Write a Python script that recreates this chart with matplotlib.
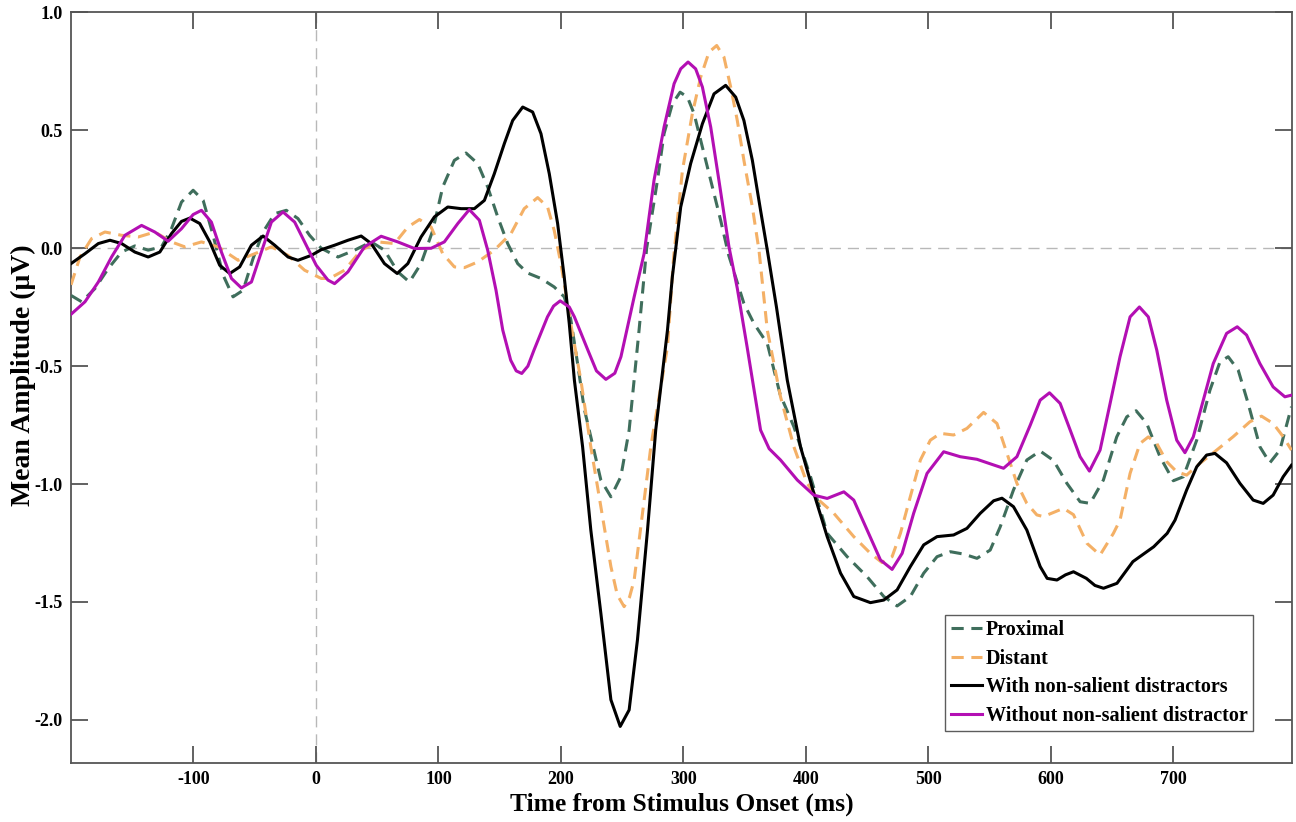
import matplotlib
matplotlib.use("Agg")
import matplotlib.pyplot as plt

plt.rcParams['font.family'] = ['Liberation Serif', 'DejaVu Serif']
plt.rcParams['font.weight'] = 'bold'

# ---- grand-average ERP waveforms (time in ms, amplitude in µV) ----
with_t = [-200, -188.6, -177.7, -168.2, -158.7, -147.9, -137, -127.5, -118, -109.8, -103, -94.9, -86.7, -78.6, -70.4,
          -62.3, -52.7, -43.2, -33.7, -22.8, -14.7, -3.8, 4.3, 15.2, 26.1, 36.9, 45.1, 55.9, 66.3, 75,
          85.8, 96.7, 107.6, 118.5, 129.3, 137.5, 145.6, 153.8, 160.6, 168.8, 176.9, 183.7, 190.5, 197.3, 202.7,
          206.8, 211, 217.7, 224.4, 232.6, 240.8, 248.4, 255.7, 262.5, 270.7, 277.4, 287, 291, 297.8, 305.9,
          315.5, 325, 334.5, 342.7, 349.4, 356.3, 363, 368.5, 376, 384.8, 395.6, 406.5, 417.4, 428.3, 439.1,
          452.7, 463.6, 474.5, 485.3, 496.2, 507.1, 520.6, 531.5, 542.4, 553.3, 560.1, 569.5, 580.4, 591.3, 597,
          605, 612, 618.5, 629, 636, 643, 654, 667, 684, 695, 701.4, 710.9, 719.1, 727.2, 734,
          743.5, 754.4, 765.2, 773.4, 781.5, 789.7, 796.5]
with_v = [-0.065, -0.023, 0.02, 0.034, 0.02, -0.016, -0.037, -0.016, 0.062, 0.114, 0.128, 0.105, 0.027, -0.072, -0.107,
          -0.079, 0.013, 0.052, 0.013, -0.037, -0.051, -0.03, -0.006, 0.013, 0.034, 0.052, 0.02, -0.065, -0.107, -0.065,
          0.048, 0.133, 0.175, 0.168, 0.168, 0.203, 0.316, 0.444, 0.542, 0.599, 0.578, 0.486, 0.316, 0.105, -0.122,
          -0.319, -0.56, -0.842, -1.195, -1.548, -1.915, -2.028, -1.958, -1.66, -1.195, -0.771, -0.347, -0.12, 0.175, 0.359,
          0.528, 0.655, 0.691, 0.641, 0.542, 0.373, 0.161, -0.008, -0.25, -0.559, -0.842, -1.039, -1.223, -1.378, -1.477,
          -1.503, -1.492, -1.449, -1.35, -1.258, -1.223, -1.216, -1.188, -1.124, -1.071, -1.06, -1.096, -1.195, -1.35, -1.40,
          -1.407, -1.385, -1.372, -1.40, -1.43, -1.442, -1.421, -1.329, -1.266, -1.209, -1.153, -1.025, -0.927, -0.877, -0.87,
          -0.91, -0.997, -1.068, -1.082, -1.047, -0.969, -0.92]

without_t = [-200, -188.6, -177.7, -166.9, -156, -142.4, -131.6, -120.7, -109.8, -100.3, -93.5, -85.4, -77.2, -69, -60.9,
             -52.7, -44.6, -36.4, -26.9, -17.4, -9.3, 0.2, 9.8, 15.2, 26.1, 39.6, 53.2, 66.8, 80.4, 94,
             104.8, 115.8, 125.2, 133.4, 140.2, 147, 152.5, 159, 163.5, 168, 173, 178, 189, 194, 199.4,
             206.8, 211, 222, 229, 236.7, 244, 249, 259.8, 267.9, 276, 284.2, 292.4, 297.8, 303.8, 310,
             315.5, 322.3, 329, 337.2, 344, 352, 363, 370, 379.3, 393, 406.5, 417.4, 431, 439.1, 450,
             460.9, 470.4, 478.6, 488, 498.9, 512.5, 526, 539.7, 553.3, 561.4, 572.3, 583.2, 591.3, 598.9, 607.6,
             615.8, 623.9, 631.5, 640.2, 648.4, 656.5, 664.7, 672.3, 679.6, 686.5, 694.6, 702.8, 709.5, 716.3, 724.5,
             732.6, 743.5, 752.2, 759.8, 770.7, 781.5, 791.1, 796.5]
without_v = [-0.28, -0.227, -0.143, -0.037, 0.055, 0.097, 0.069, 0.03, 0.083, 0.143, 0.161, 0.111, -0.016, -0.128, -0.168,
             -0.143, -0.016, 0.111, 0.154, 0.111, 0.027, -0.072, -0.135, -0.15, -0.1, 0.006, 0.051, 0.027, -0.001, 0.0,
             0.027, 0.105, 0.164, 0.119, -0.008, -0.178, -0.347, -0.475, -0.52, -0.531, -0.50, -0.432, -0.291, -0.245, -0.223,
             -0.249, -0.291, -0.432, -0.52, -0.556, -0.53, -0.46, -0.206, -0.023, 0.288, 0.514, 0.698, 0.761, 0.79, 0.761,
             0.684, 0.514, 0.288, 0.006, -0.17, -0.418, -0.771, -0.85, -0.898, -0.983, -1.047, -1.061, -1.033, -1.068, -1.195,
             -1.322, -1.362, -1.294, -1.124, -0.955, -0.863, -0.884, -0.895, -0.919, -0.933, -0.884, -0.75, -0.644, -0.613, -0.658,
             -0.771, -0.884, -0.945, -0.856, -0.658, -0.46, -0.291, -0.249, -0.291, -0.432, -0.644, -0.814, -0.867, -0.8, -0.644,
             -0.489, -0.361, -0.333, -0.368, -0.489, -0.588, -0.63, -0.623]

proximal_t = [-200, -191.3, -180.5, -169.6, -158.7, -147.9, -137, -126.1, -118, -109.8, -100.3, -92.1, -84, -75.8, -67.7,
              -59.5, -51.4, -43.2, -33.7, -24.2, -14.7, -5.2, 4.3, 18, 31.5, 45.1, 55.9, 66.8, 76.3, 85.8,
              95.4, 103.5, 113, 122.5, 132.1, 140.2, 148.4, 156.5, 164.7, 172.8, 183.7, 194.5, 202.7, 208, 213.6,
              219, 224.4, 232.6, 240.8, 248.9, 255.7, 263.8, 270, 278.8, 284.2, 291, 297.3, 303.3, 308.7, 315.5,
              322.3, 330.4, 337, 349.4, 357.6, 368.5, 379, 390.2, 403.8, 417.4, 433.7, 450, 463.6, 474.5, 485.3,
              496.2, 507.1, 518, 528.8, 539.7, 550.5, 558.7, 569.5, 580.4, 591.3, 602.2, 613.1, 623.9, 632.1, 642.9,
              653.8, 662, 669.6, 678.3, 689.1, 700, 708.2, 719.1, 729.9, 738.1, 744.8, 753, 761.1, 770.7, 778.8,
              787, 796.5]
proximal_v = [-0.2, -0.227, -0.171, -0.086, -0.016, 0.01, -0.008, 0.006, 0.083, 0.196, 0.246, 0.203, 0.055, -0.114, -0.206,
              -0.178, -0.044, 0.069, 0.147, 0.161, 0.126, 0.055, 0.0, -0.037, -0.008, 0.027, -0.008, -0.1, -0.143, -0.065,
              0.076, 0.26, 0.373, 0.404, 0.359, 0.26, 0.133, 0.02, -0.065, -0.105, -0.128, -0.164, -0.206, -0.3, -0.489,
              -0.68, -0.80, -0.983, -1.054, -0.969, -0.771, -0.347, 0.0, 0.288, 0.486, 0.613, 0.662, 0.641, 0.571, 0.429,
              0.288, 0.119, -0.03, -0.234, -0.319, -0.404, -0.62, -0.757, -0.969, -1.209, -1.308, -1.393, -1.477, -1.517, -1.477,
              -1.378, -1.308, -1.287, -1.297, -1.315, -1.28, -1.181, -1.025, -0.898, -0.86, -0.9, -0.997, -1.075, -1.082, -0.983,
              -0.8, -0.715, -0.689, -0.743, -0.884, -0.986, -0.969, -0.814, -0.602, -0.482, -0.46, -0.517, -0.658, -0.842, -0.91,
              -0.856, -0.672]

distant_t = [-200, -192.7, -183.2, -172.3, -158.7, -145.1, -131.6, -118, -107.1, -93.5, -79.9, -63.6, -50, -36.4, -22.8,
             -9.3, 4.3, 11.1, 23.3, 36.9, 50.5, 64.1, 75, 84.5, 94, 103.5, 113, 121.2, 132.1, 145.6,
             159.2, 170, 181, 189.1, 194.5, 200, 208, 216.3, 224.4, 232.6, 240.8, 246, 251.6, 256, 259.8,
             266.6, 273.4, 279.5, 287, 292, 299.2, 307.3, 314.1, 320.9, 327.2, 333.1, 338.6, 344, 349.4, 356.3,
             361.7, 368.5, 379.3, 390.2, 401, 411, 422.8, 439.1, 452.7, 462.2, 470.4, 477.2, 485.3, 493.5, 501.6,
             509.8, 520.6, 531.5, 545.1, 556, 564.2, 572.3, 580.4, 588.6, 594, 610.3, 618.5, 629.4, 640.2, 651.1,
             656.5, 664.7, 672.8, 679.6, 686.5, 694.6, 702.8, 710.9, 721.8, 735.4, 748.9, 762.5, 772, 781.5, 789.7,
             796.5]
distant_v = [-0.155, -0.037, 0.041, 0.069, 0.055, 0.048, 0.069, 0.027, 0.006, 0.027, 0.006, -0.051, -0.023, 0.006, -0.03,
             -0.093, -0.128, -0.128, -0.093, -0.008, 0.027, 0.02, 0.09, 0.122, 0.09, -0.023, -0.079, -0.082, -0.058, -0.008,
             0.062, 0.168, 0.215, 0.175, 0.076, -0.065, -0.319, -0.56, -0.842, -1.096, -1.35, -1.47, -1.52, -1.48, -1.407,
             -1.124, -0.842, -0.65, -0.418, -0.04, 0.33, 0.571, 0.726, 0.832, 0.86, 0.811, 0.684, 0.542, 0.373, 0.175,
             -0.008, -0.347, -0.63, -0.842, -0.997, -1.07, -1.124, -1.223, -1.294, -1.333, -1.308, -1.209, -1.053, -0.898, -0.814,
             -0.785, -0.792, -0.764, -0.696, -0.743, -0.87, -0.997, -1.082, -1.131, -1.138, -1.103, -1.13, -1.251, -1.301, -1.209,
             -1.153, -0.955, -0.828, -0.8, -0.828, -0.905, -0.948, -0.962, -0.912, -0.856, -0.799, -0.736, -0.712, -0.743, -0.799,
             -0.856]

labels = ["Proximal", "Distant", "With non-salient distractors", "Without non-salient distractor"]
xticks = [-100, 0, 100, 200, 300, 400, 500, 600, 700]
yticks = [-2.0, -1.5, -1.0, -0.5, 0.0, 0.5, 1.0]

fig = plt.figure(figsize=(12.96, 8.22), dpi=100)
ax = fig.add_axes([0.0548, 0.0718, 0.9422, 0.913])

# zero reference lines
ax.axhline(0, color="#b8b8b8", lw=1.0, ls=(0, (8, 5)), zorder=1)
ax.axvline(0, color="#b8b8b8", lw=1.0, ls=(0, (8, 5)), zorder=1)

lw = 2.2
common = dict(lw=lw, solid_joinstyle="round", dash_joinstyle="round", dash_capstyle="butt")
ax.plot(proximal_t, proximal_v, color="#3f6e5c", ls=(0, (4, 2.5)), label=labels[0], zorder=3, **common)
ax.plot(distant_t, distant_v, color="#f4b066", ls=(0, (4, 2.5)), label=labels[1], zorder=3, **common)
ax.plot(with_t, with_v, color="black", label=labels[2], zorder=4, **common)
ax.plot(without_t, without_v, color="#b30fb3", label=labels[3], zorder=5, **common)

ax.set_xlim(-200, 797)
ax.set_ylim(-2.183, 1.0)
ax.set_xticks(xticks)
ax.set_xticklabels([f"{t}" for t in xticks])
ax.set_yticks(yticks)
ax.set_yticklabels([f"{v:.1f}" for v in yticks])

for s in ax.spines.values():
    s.set_color("#555555")
    s.set_linewidth(1.3)
ax.tick_params(direction="in", length=12, width=1.3, color="#555555",
               top=True, right=True, labelsize=13, pad=6)
for lab in ax.get_xticklabels() + ax.get_yticklabels():
    lab.set_fontweight("bold")

ax.set_xlabel("Time from Stimulus Onset (ms)", fontsize=18.4, fontweight="bold", labelpad=3)
ax.set_ylabel("Mean Amplitude (\u03bcV)", fontsize=20, fontweight="bold", labelpad=0)
ax.yaxis.set_label_coords(-0.029, 0.517)

leg = ax.legend(loc="lower right", bbox_to_anchor=(0.9676, 0.0428), fontsize=14.5,
                frameon=True, fancybox=False, handlelength=1.55, handletextpad=0.2,
                labelspacing=0.42, borderpad=0.25, borderaxespad=0.0)
leg.get_frame().set_edgecolor("#333333")
leg.get_frame().set_linewidth(1.0)
for t in leg.get_texts():
    t.set_fontweight("bold")

fig.savefig("out.png", dpi=100)
